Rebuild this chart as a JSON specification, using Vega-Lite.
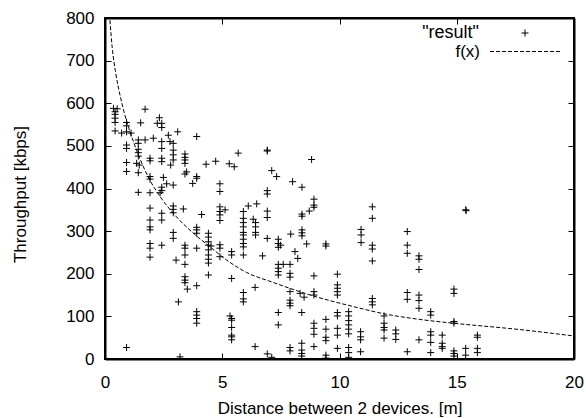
{
 "$schema": "https://vega.github.io/schema/vega-lite/v6.json",
 "width": 469,
 "height": 341,
 "autosize": {"type": "none"},
 "padding": {"left": 105, "top": 18, "right": 12, "bottom": 59},
 "background": "white",
 "config": {
  "font": "Liberation Sans",
  "view": {"stroke": "black", "strokeWidth": 2},
  "axis": {"grid": false, "domain": true, "domainColor": "black", "domainWidth": 2, "ticks": true, "tickColor": "black", "tickSize": -6, "tickWidth": 1, "labelColor": "black", "labelFontSize": 17, "labelFlush": false, "labelOverlap": false, "titleFontSize": 17, "titleFontWeight": "normal", "titleColor": "black", "labelFont": "Liberation Sans", "titleFont": "Liberation Sans"}
 },
 "datasets": {
  "curve": [
   {"x": 0.21, "y": 795}, {"x": 0.31, "y": 729}, {"x": 0.46, "y": 670}, {"x": 0.64, "y": 619}, {"x": 0.81, "y": 580}, {"x": 1.02, "y": 541}, {"x": 1.16, "y": 518}, {"x": 1.91, "y": 420}, {"x": 2.35, "y": 381}, {"x": 2.91, "y": 342}, {"x": 3.77, "y": 295}, {"x": 4.48, "y": 263}, {"x": 5.19, "y": 232}, {"x": 6.04, "y": 203}, {"x": 7.1, "y": 181}, {"x": 8.88, "y": 148}, {"x": 10.59, "y": 123}, {"x": 12.0, "y": 105}, {"x": 13.4, "y": 93}, {"x": 14.85, "y": 84}, {"x": 17.7, "y": 69}, {"x": 20, "y": 54}
  ],
  "points": [
   {"x":0.36,"y":588},{"x":0.52,"y":587},{"x":0.43,"y":580},{"x":0.43,"y":574},{"x":0.43,"y":565},{"x":0.43,"y":555},{"x":0.43,"y":535},
   {"x":0.71,"y":530},{"x":0.92,"y":555},{"x":0.92,"y":547},{"x":0.92,"y":533},{"x":0.92,"y":502},{"x":0.92,"y":494},{"x":0.92,"y":461},{"x":0.92,"y":440},{"x":0.92,"y":27},
   {"x":1.11,"y":530},{"x":1.52,"y":554},{"x":1.71,"y":586},
   {"x":1.42,"y":514},{"x":1.42,"y":506},{"x":1.71,"y":514},{"x":1.42,"y":492},{"x":1.42,"y":484},{"x":1.42,"y":476},{"x":1.35,"y":459},{"x":1.46,"y":455},{"x":1.42,"y":437},{"x":1.42,"y":391},
   {"x":1.92,"y":471},{"x":1.92,"y":465},{"x":1.92,"y":428},{"x":1.92,"y":422},{"x":1.92,"y":390},{"x":1.92,"y":354},{"x":1.92,"y":326},{"x":1.92,"y":310},{"x":1.92,"y":303},{"x":1.92,"y":271},{"x":1.92,"y":260},{"x":1.92,"y":239},
   {"x":2.06,"y":518},{"x":2.23,"y":553},{"x":2.32,"y":566},{"x":2.42,"y":553},{"x":2.42,"y":543},{"x":2.42,"y":510},{"x":2.42,"y":494},{"x":2.42,"y":471},{"x":2.42,"y":463},{"x":2.49,"y":426},{"x":2.42,"y":403},{"x":2.42,"y":395},{"x":2.35,"y":390},{"x":2.42,"y":342},{"x":2.42,"y":326},{"x":2.42,"y":267},
   {"x":2.7,"y":525},{"x":2.77,"y":510},{"x":2.91,"y":506},{"x":2.91,"y":490},{"x":2.91,"y":479},{"x":2.91,"y":467},{"x":2.8,"y":455},{"x":2.63,"y":411},{"x":2.91,"y":408},{"x":2.91,"y":359},{"x":2.91,"y":351},{"x":2.91,"y":343},{"x":2.91,"y":297},{"x":2.91,"y":283},
   {"x":3.03,"y":232},{"x":3.1,"y":533},{"x":3.13,"y":134},{"x":3.2,"y":5},{"x":3.34,"y":352},
   {"x":3.41,"y":481},{"x":3.41,"y":473},{"x":3.41,"y":467},{"x":3.41,"y":459},{"x":3.48,"y":439},{"x":3.41,"y":434},{"x":3.41,"y":267},{"x":3.41,"y":260},{"x":3.41,"y":244},{"x":3.41,"y":222},{"x":3.41,"y":193},{"x":3.41,"y":185},{"x":3.41,"y":179},{"x":3.51,"y":164},
   {"x":3.74,"y":412},{"x":3.91,"y":522},{"x":3.91,"y":428},{"x":3.91,"y":424},{"x":3.91,"y":309},{"x":3.91,"y":303},{"x":3.91,"y":295},{"x":3.91,"y":260},{"x":3.91,"y":172},{"x":3.91,"y":111},{"x":3.91,"y":103},{"x":3.91,"y":95},{"x":3.91,"y":84},
   {"x":4.12,"y":339},{"x":4.31,"y":457},{"x":4.41,"y":295},{"x":4.41,"y":286},{"x":4.41,"y":275},{"x":4.41,"y":267},{"x":4.41,"y":256},{"x":4.41,"y":244},{"x":4.41,"y":234},{"x":4.41,"y":225},{"x":4.41,"y":197},{"x":4.52,"y":265},{"x":4.72,"y":464},
   {"x":4.9,"y":411},{"x":4.9,"y":393},{"x":4.9,"y":357},{"x":4.9,"y":346},{"x":4.9,"y":338},{"x":4.9,"y":325},{"x":4.9,"y":268},{"x":4.9,"y":260},{"x":4.9,"y":240},{"x":5.12,"y":350},
   {"x":5.3,"y":458},{"x":5.51,"y":451},{"x":5.4,"y":252},{"x":5.4,"y":244},{"x":5.4,"y":189},{"x":5.33,"y":101},{"x":5.4,"y":95},{"x":5.4,"y":91},{"x":5.4,"y":74},{"x":5.4,"y":56},{"x":5.4,"y":52},{"x":5.4,"y":45},
   {"x":5.68,"y":483},{"x":5.9,"y":346},{"x":5.9,"y":330},{"x":5.9,"y":320},{"x":5.9,"y":310},{"x":5.9,"y":297},{"x":5.9,"y":291},{"x":5.9,"y":281},{"x":5.9,"y":271},{"x":5.9,"y":263},{"x":5.9,"y":244},{"x":5.9,"y":156},{"x":5.9,"y":141},{"x":5.9,"y":134},
   {"x":6.11,"y":359},{"x":6.47,"y":364},{"x":6.32,"y":328},{"x":6.42,"y":320},{"x":6.42,"y":310},{"x":6.42,"y":297},{"x":6.42,"y":291},{"x":6.4,"y":168},{"x":6.4,"y":29},{"x":6.72,"y":242},
   {"x":6.92,"y":490},{"x":6.92,"y":488},{"x":6.92,"y":395},{"x":6.92,"y":387},{"x":6.92,"y":347},{"x":6.92,"y":332},{"x":6.92,"y":283},{"x":6.92,"y":12},{"x":7.11,"y":4},{"x":7.11,"y":442},{"x":7.32,"y":428},
   {"x":7.39,"y":281},{"x":7.39,"y":271},{"x":7.49,"y":267},{"x":7.39,"y":262},{"x":7.39,"y":222},{"x":7.39,"y":213},{"x":7.39,"y":205},{"x":7.39,"y":197},{"x":7.6,"y":222},{"x":7.89,"y":222},{"x":7.89,"y":201},{"x":7.89,"y":192},{"x":7.92,"y":293},{"x":7.89,"y":158},{"x":7.89,"y":138},{"x":7.89,"y":131},{"x":7.89,"y":125},{"x":7.39,"y":109},{"x":7.39,"y":80},{"x":7.89,"y":27},{"x":7.89,"y":19},
   {"x":8.0,"y":416},{"x":8.4,"y":403},{"x":8.1,"y":252},{"x":8.22,"y":236},{"x":8.4,"y":340},{"x":8.4,"y":335},{"x":8.4,"y":303},{"x":8.4,"y":296},{"x":8.4,"y":289},{"x":8.6,"y":270},{"x":8.32,"y":154},{"x":8.49,"y":145},{"x":8.39,"y":109},{"x":8.39,"y":37},{"x":8.39,"y":21},{"x":8.39,"y":13},{"x":8.39,"y":7},
   {"x":8.81,"y":468},{"x":8.91,"y":375},{"x":8.91,"y":361},{"x":8.91,"y":356},{"x":8.71,"y":347},{"x":8.91,"y":195},{"x":8.91,"y":158},{"x":8.91,"y":150},{"x":8.91,"y":84},{"x":8.91,"y":72},{"x":8.91,"y":58},{"x":8.91,"y":29},
   {"x":9.42,"y":270},{"x":9.42,"y":265},{"x":9.42,"y":93},{"x":9.42,"y":70},{"x":9.42,"y":51},{"x":9.42,"y":43},{"x":9.42,"y":9},{"x":9.42,"y":2},
   {"x":9.91,"y":199},{"x":9.91,"y":174},{"x":9.91,"y":166},{"x":9.91,"y":158},{"x":9.91,"y":150},{"x":9.91,"y":109},{"x":9.91,"y":101},{"x":9.91,"y":72},{"x":9.91,"y":56},{"x":9.91,"y":25},
   {"x":10.39,"y":111},{"x":10.39,"y":101},{"x":10.39,"y":90},{"x":10.39,"y":80},{"x":10.39,"y":70},{"x":10.39,"y":59},{"x":10.39,"y":27},{"x":10.39,"y":15},{"x":10.39,"y":4},
   {"x":10.92,"y":304},{"x":10.92,"y":291},{"x":10.92,"y":273},{"x":10.9,"y":64},{"x":10.9,"y":52},{"x":10.9,"y":45},{"x":10.9,"y":17},
   {"x":11.4,"y":357},{"x":11.4,"y":330},{"x":11.4,"y":267},{"x":11.4,"y":258},{"x":11.4,"y":230},{"x":11.4,"y":142},{"x":11.4,"y":134},{"x":11.4,"y":127},
   {"x":11.9,"y":101},{"x":11.9,"y":84},{"x":11.9,"y":74},{"x":11.9,"y":68},{"x":11.9,"y":49},
   {"x":12.4,"y":68},{"x":12.4,"y":59},{"x":12.4,"y":46},
   {"x":12.89,"y":299},{"x":12.89,"y":267},{"x":12.89,"y":248},{"x":12.89,"y":156},{"x":12.89,"y":140},{"x":12.89,"y":17},
   {"x":13.39,"y":242},{"x":13.39,"y":234},{"x":13.39,"y":210},{"x":13.39,"y":150},{"x":13.39,"y":137},{"x":13.39,"y":119},{"x":13.39,"y":45},
   {"x":13.89,"y":111},{"x":13.89,"y":103},{"x":13.89,"y":64},{"x":13.89,"y":56},{"x":13.89,"y":39},{"x":13.89,"y":15},
   {"x":14.38,"y":56},{"x":14.38,"y":37},{"x":14.38,"y":29},{"x":14.38,"y":25},
   {"x":14.88,"y":164},{"x":14.88,"y":154},{"x":14.88,"y":88},{"x":14.88,"y":84},{"x":14.88,"y":19},{"x":14.88,"y":13},{"x":14.88,"y":7},
   {"x":15.38,"y":350},{"x":15.4,"y":348},{"x":15.38,"y":25},{"x":15.38,"y":9},
   {"x":15.88,"y":56},{"x":15.88,"y":51},{"x":15.88,"y":25},{"x":15.88,"y":15}
  ]
 },
 "layer": [
  {
   "data": {"name": "curve"},
   "mark": {"type": "line", "color": "black", "strokeWidth": 1, "interpolate": "monotone", "clip": true},
   "encoding": {
    "x": {"field": "x", "type": "quantitative", "scale": {"domain": [0, 20], "nice": false, "zero": false},
          "axis": {"orient": "bottom", "values": [0, 5, 10, 15, 20], "title": "Distance between 2 devices. [m]", "labelPadding": 21, "titleBaseline": "middle", "titleY": 49}},
    "y": {"field": "y", "type": "quantitative", "scale": {"domain": [0, 800], "nice": false},
          "axis": {"orient": "left", "values": [0, 100, 200, 300, 400, 500, 600, 700, 800], "title": "Throughput [kbps]", "labelPadding": 17, "titleX": -85, "titleY": 176, "titleAngle": -90, "titleAlign": "center", "titleBaseline": "middle"}},
    "strokeDash": {
     "datum": "f(x)",
     "scale": {"domain": ["f(x)"], "range": [[4, 2]]},
     "legend": {"title": null, "orient": "none", "legendX": 384.5, "legendY": -2, "labelAlign": "right", "labelOffset": -80.5, "labelFontSize": 17, "labelColor": "black", "labelFont": "Liberation Sans", "labelLimit": 0, "symbolType": "stroke", "symbolSize": 4900, "symbolStrokeWidth": 1, "symbolStrokeColor": "black", "symbolOpacity": 1, "padding": 0}
    }
   }
  },
  {
   "data": {"name": "points"},
   "mark": {"type": "point", "filled": false, "color": "black", "strokeWidth": 1, "size": 289, "opacity": 1, "clip": true},
   "encoding": {
    "x": {"field": "x", "type": "quantitative", "axis": {"orient": "top", "labels": false, "title": null, "values": [0, 5, 10, 15, 20]}},
    "y": {"field": "y", "type": "quantitative", "axis": {"orient": "right", "labels": false, "title": null, "values": [0, 100, 200, 300, 400, 500, 600, 700, 800]}},
    "shape": {
     "datum": "\"result\"",
     "scale": {"domain": ["\"result\""], "range": ["M-0.412,0H0.412M0,-0.412V0.412"]},
     "legend": {"title": null, "orient": "none", "legendX": 411, "legendY": 6, "labelAlign": "right", "labelOffset": -55, "labelFontSize": 18, "labelColor": "black", "labelFont": "Liberation Sans", "labelLimit": 0, "symbolSize": 289, "symbolStrokeWidth": 1, "symbolStrokeColor": "black", "symbolFillColor": "transparent", "symbolOpacity": 1, "padding": 0}
    }
   }
  }
 ],
 "resolve": {"axis": {"x": "independent", "y": "independent"}}
}
